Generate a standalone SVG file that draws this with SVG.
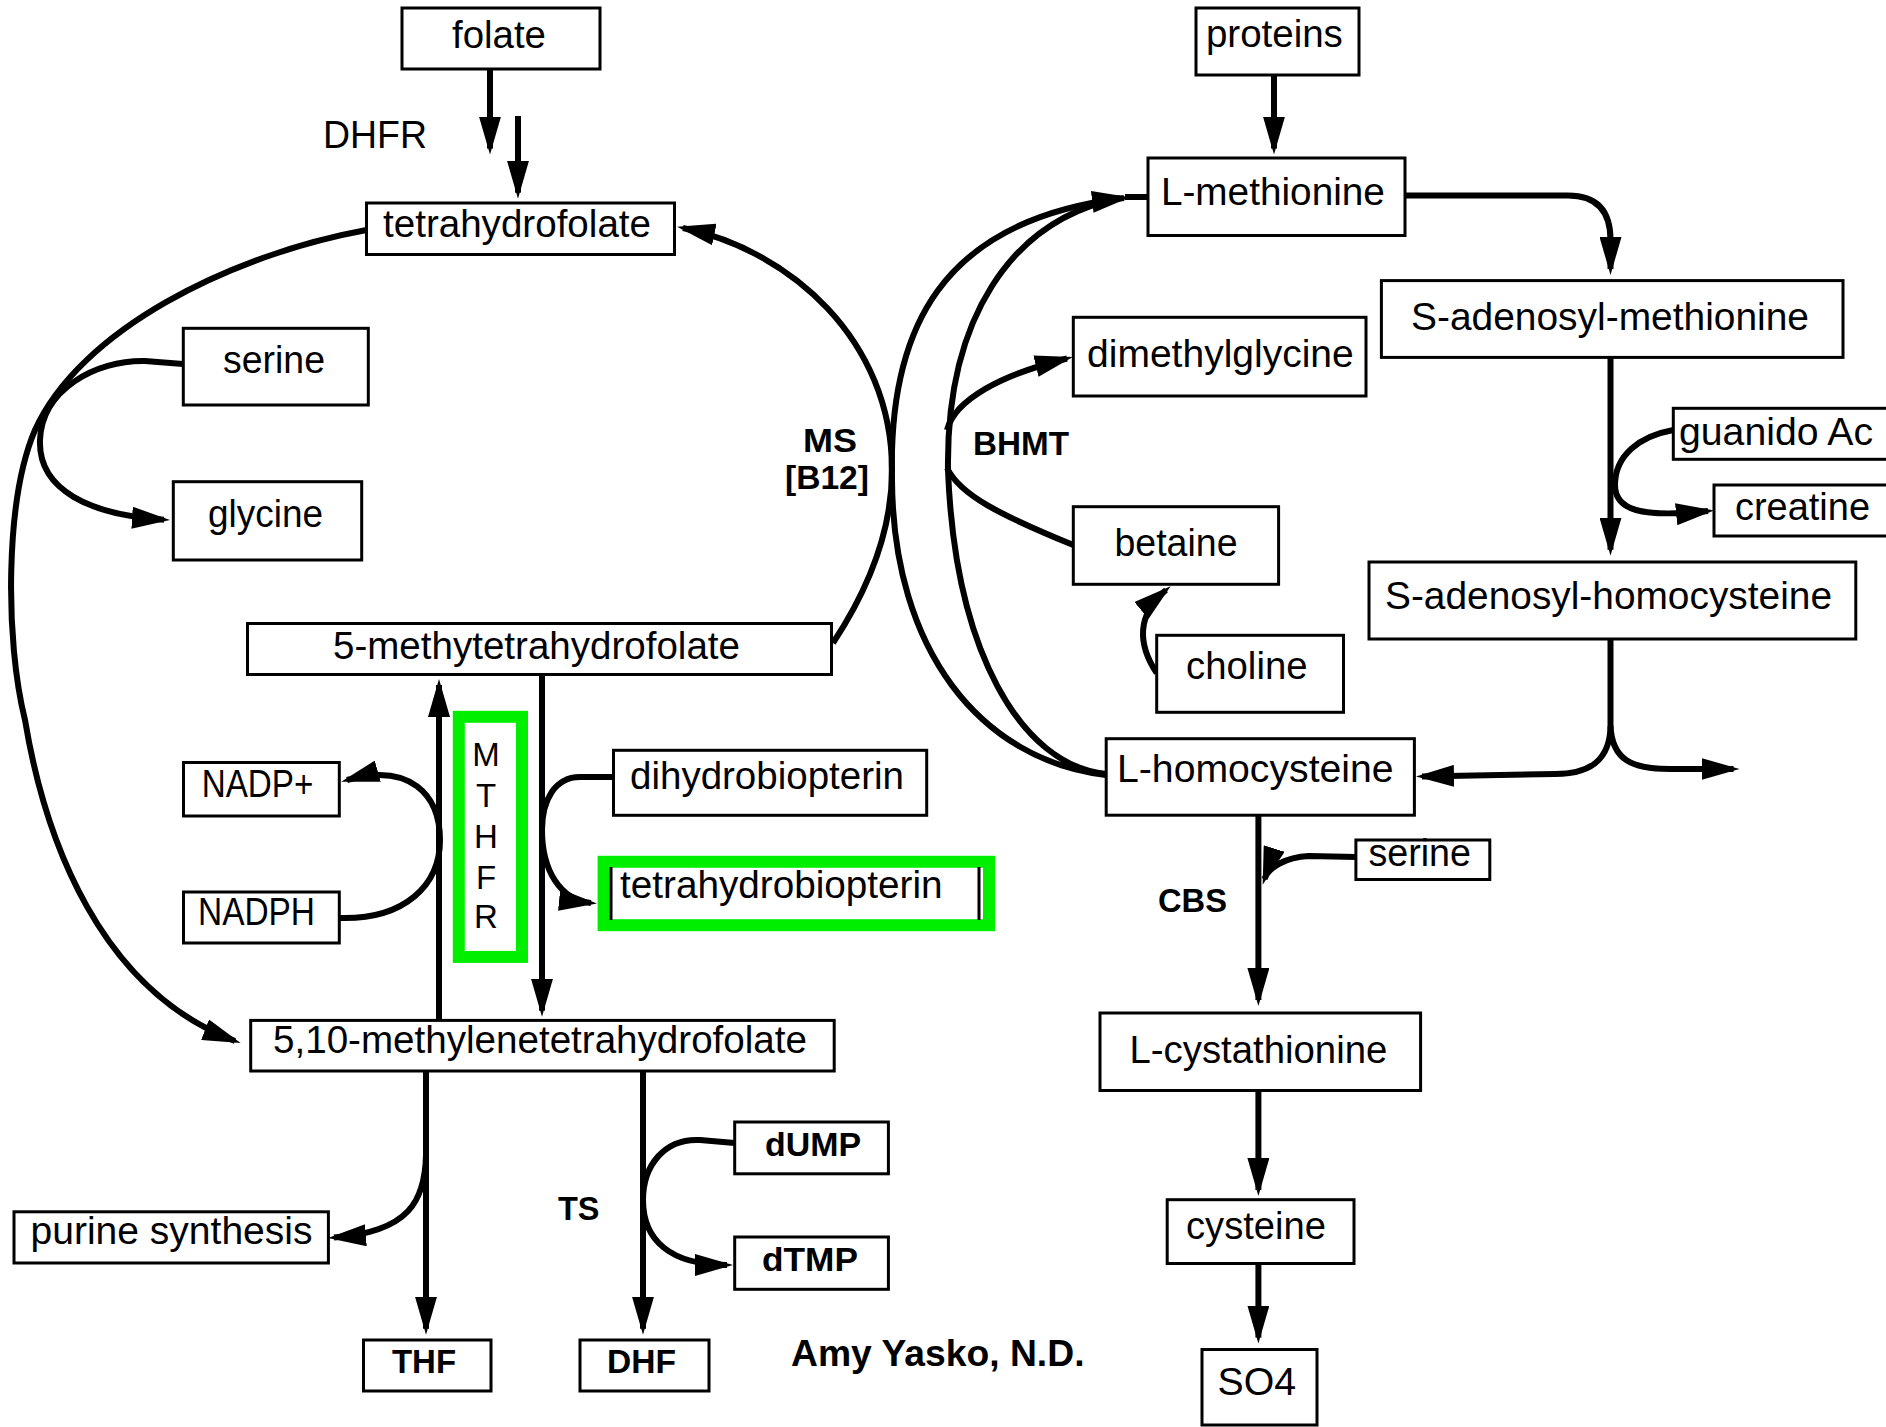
<svg xmlns="http://www.w3.org/2000/svg" width="1886" height="1427" viewBox="0 0 1886 1427">
<style>
.box{fill:#fff;stroke:#000;stroke-width:3}
.grn{fill:none;stroke:#00ee00;stroke-width:12}
.t{font-family:"Liberation Sans",Arial,sans-serif;font-size:38px;fill:#000}
.c{text-anchor:middle}
.b{font-family:"Liberation Sans",Arial,sans-serif;font-size:34px;font-weight:bold;fill:#000}
.ln{fill:none;stroke:#000;stroke-width:6}
.ar{marker-end:url(#ah)}
</style>
<defs>
<marker id="ah" markerUnits="userSpaceOnUse" markerWidth="38" markerHeight="22" viewBox="0 0 38 22" refX="32" refY="11" orient="auto">
<path d="M0,0 L38,11 L0,22 z" fill="#000"/>
</marker>
</defs>
<rect width="1886" height="1427" fill="#fff"/>

<g id="connectors">
<path class="ln ar" d="M490 69 L490 148.6"/>
<path class="ln ar" d="M518 116 L518 192.7"/>
<path class="ln ar" d="M833 643 C868 590 892 530 892 470 C892 340 790 250 683 228"/>
<path class="ln ar" d="M366.5 230 C230 255 80 330 35 430 C5 500 5 640 25 720 C45 840 100 990 235 1041"/>
<path class="ln ar" d="M183 364 L145 361 C95 360 42 390 40 440 C38 490 90 515 164 519.7"/>
<path class="ln ar" d="M339 918 C405 920 440 885 440 840 C440 795 410 762 347 780"/>
<path class="ln ar" d="M439 1020 L439 685"/>
<path class="ln ar" d="M542 674.5 L542 1010.7"/>
<path class="ln ar" d="M613.5 777 L580 777 C555 777 542 800 542 830 C542 870 560 900 591 903"/>
<path class="ln ar" d="M426 1071 L426 1328.7"/>
<path class="ln ar" d="M426 1155 C425 1200 410 1232 334 1237.6"/>
<path class="ln ar" d="M643 1071 L643 1328.7"/>
<path class="ln ar" d="M734.7 1143 L700 1140 C665 1138 643 1165 643 1200 C643 1240 670 1265 727 1265"/>
<path class="ln ar" d="M1274 75 L1274 148.6"/>
<path class="ln ar" d="M1405 195.5 L1568 195.5 C1598 195.5 1610.5 212 1610.5 240 L1610.5 269"/>
<path class="ln ar" d="M1610.5 357.4 L1610.5 549.7"/>
<path class="ln ar" d="M1673.3 430 C1640 436 1615 455 1615 485 C1615 510 1640 518 1708 511"/>
<path class="ln" d="M1106 774 C1020 765 955 650 948 470 C946 320 1010 220 1120 198"/>
<path class="ln ar" d="M1106 775 C980 760 893 650 892 480 C888 330 940 220 1124 198"/>
<path class="ln" d="M1125 197 L1148 197"/>
<path class="ln ar" d="M947 430 C955 400 1000 375 1067 358.5"/>
<path class="ln" d="M947 468 C960 495 1000 515 1073.3 545"/>
<path class="ln ar" d="M1156.7 673 C1138 645 1136 615 1166 590"/>
<path class="ln" d="M1610.5 639 L1610.5 726"/>
<path class="ln ar" d="M1610.5 726 C1610 760 1590 774 1555 774 L1422 776.5"/>
<path class="ln ar" d="M1610.5 726 C1612 760 1632 769 1670 769 L1733.5 769"/>
<path class="ln ar" d="M1258.4 815 L1258.4 1000"/>
<path class="ln ar" d="M1356 857 L1309 856 C1285 857 1268 868 1264.5 879"/>
<path class="ln ar" d="M1258.4 1090.5 L1258.4 1190"/>
<path class="ln ar" d="M1258.4 1263.5 L1258.4 1337.6"/>
</g>

<g id="folate"><rect class="box" x="402" y="8" width="198" height="61"/><text class="t c" x="499" y="48" textLength="94" lengthAdjust="spacingAndGlyphs">folate</text></g>
<g id="dhfr"><text class="t" x="323" y="148" textLength="104" lengthAdjust="spacingAndGlyphs">DHFR</text></g>
<g id="thf-top"><rect class="box" x="366.5" y="203" width="308" height="51.5"/><text class="t c" x="517" y="236.5" textLength="268" lengthAdjust="spacingAndGlyphs">tetrahydrofolate</text></g>
<g id="serine"><rect class="box" x="183.3" y="328.3" width="185" height="76.7"/><text class="t c" x="274" y="373" textLength="102" lengthAdjust="spacingAndGlyphs">serine</text></g>
<g id="glycine"><rect class="box" x="173.3" y="481.7" width="188.4" height="78.3"/><text class="t c" x="265.5" y="527" textLength="115" lengthAdjust="spacingAndGlyphs">glycine</text></g>
<g id="methylthf"><rect class="box" x="247.5" y="623.5" width="584" height="51"/><text class="t c" x="536.5" y="659" textLength="407" lengthAdjust="spacingAndGlyphs">5-methytetrahydrofolate</text></g>
<g id="ms"><text class="b" x="803" y="451.5" textLength="54" lengthAdjust="spacingAndGlyphs">MS</text><text class="b" x="785" y="489" textLength="84" lengthAdjust="spacingAndGlyphs">[B12]</text></g>
<g id="nadp"><rect class="box" x="183.5" y="762.5" width="155.8" height="53.5"/><text class="t c" x="257.5" y="796.7" textLength="111.7" lengthAdjust="spacingAndGlyphs">NADP+</text></g>
<g id="nadph"><rect class="box" x="183.5" y="892" width="155.8" height="51"/><text class="t c" x="256.5" y="925" textLength="117" lengthAdjust="spacingAndGlyphs">NADPH</text></g>
<g id="mthfr"><rect class="grn" x="458.8" y="716.8" width="63.2" height="240.1"/>
<text class="t c" style="font-size:33px" x="486" y="766">M</text>
<text class="t c" style="font-size:33px" x="486" y="807">T</text>
<text class="t c" style="font-size:33px" x="486" y="848">H</text>
<text class="t c" style="font-size:33px" x="486" y="889">F</text>
<text class="t c" style="font-size:33px" x="486" y="928">R</text></g>
<g id="dihydrobiopterin"><rect class="box" x="613.5" y="750.3" width="313.2" height="65"/><text class="t c" x="767" y="789" textLength="274" lengthAdjust="spacingAndGlyphs">dihydrobiopterin</text></g>
<g id="tetrahydrobiopterin"><rect class="grn" x="603.6" y="861.8" width="385.4" height="63.4"/><path d="M611 867 L611 920 M979 867 L979 920" stroke="#000" stroke-width="3"/><text class="t" x="620" y="898" textLength="322.6" lengthAdjust="spacingAndGlyphs">tetrahydrobiopterin</text></g>
<g id="methylenethf"><rect class="box" x="250.7" y="1020.4" width="583.5" height="50.6"/><text class="t c" x="540" y="1052.5" textLength="534" lengthAdjust="spacingAndGlyphs">5,10-methylenetetrahydrofolate</text></g>
<g id="purine"><rect class="box" x="14" y="1211.8" width="314.4" height="51.2"/><text class="t c" x="171.5" y="1244" textLength="282" lengthAdjust="spacingAndGlyphs">purine synthesis</text></g>
<g id="thf-bottom"><rect class="box" x="363.5" y="1340" width="127.5" height="51"/><text class="b c" x="424" y="1372.6" textLength="64" lengthAdjust="spacingAndGlyphs">THF</text></g>
<g id="dhf"><rect class="box" x="580" y="1340" width="129" height="51"/><text class="b c" x="641.5" y="1372.6" textLength="69" lengthAdjust="spacingAndGlyphs">DHF</text></g>
<g id="ts"><text class="b" x="558" y="1219.7" textLength="41.5" lengthAdjust="spacingAndGlyphs">TS</text></g>
<g id="dump"><rect class="box" x="734.7" y="1122" width="153.7" height="51.8"/><text class="b c" x="813" y="1156.4" textLength="96" lengthAdjust="spacingAndGlyphs">dUMP</text></g>
<g id="dtmp"><rect class="box" x="734.7" y="1237" width="153.7" height="52.3"/><text class="b c" x="810" y="1271" textLength="96" lengthAdjust="spacingAndGlyphs">dTMP</text></g>
<g id="author"><text class="b" style="font-size:36px" x="791" y="1366" textLength="293.5" lengthAdjust="spacingAndGlyphs">Amy Yasko, N.D.</text></g>

<g id="proteins"><rect class="box" x="1196" y="8" width="163" height="67"/><text class="t c" x="1274.4" y="47" textLength="137" lengthAdjust="spacingAndGlyphs">proteins</text></g>
<g id="methionine"><rect class="box" x="1148" y="158" width="257" height="77.5"/><text class="t c" x="1272.9" y="204.6" textLength="224" lengthAdjust="spacingAndGlyphs">L-methionine</text></g>
<g id="sam"><rect class="box" x="1381.4" y="280.6" width="461.6" height="76.8"/><text class="t c" x="1610" y="329.7" textLength="398" lengthAdjust="spacingAndGlyphs">S-adenosyl-methionine</text></g>
<g id="dimethylglycine"><rect class="box" x="1073.3" y="317.3" width="292.7" height="78.7"/><text class="t c" x="1220.4" y="367.4" textLength="266.7" lengthAdjust="spacingAndGlyphs">dimethylglycine</text></g>
<g id="bhmt"><text class="b" x="973" y="455" textLength="96" lengthAdjust="spacingAndGlyphs">BHMT</text></g>
<g id="betaine"><rect class="box" x="1073.3" y="506.7" width="205.3" height="77.6"/><text class="t c" x="1176" y="555.7" textLength="123" lengthAdjust="spacingAndGlyphs">betaine</text></g>
<g id="choline"><rect class="box" x="1156.7" y="635.3" width="186.8" height="77"/><text class="t c" x="1246.8" y="679" textLength="121.5" lengthAdjust="spacingAndGlyphs">choline</text></g>
<g id="guanido"><rect class="box" x="1673.3" y="408.3" width="230" height="51"/><text class="t" x="1679" y="445" textLength="194" lengthAdjust="spacingAndGlyphs">guanido Ac</text></g>
<g id="creatine"><rect class="box" x="1714" y="485" width="190" height="51"/><text class="t" x="1735" y="520" textLength="135" lengthAdjust="spacingAndGlyphs">creatine</text></g>
<g id="sah"><rect class="box" x="1369" y="562" width="486.8" height="77"/><text class="t c" x="1608.5" y="609" textLength="447" lengthAdjust="spacingAndGlyphs">S-adenosyl-homocysteine</text></g>
<g id="homocysteine"><rect class="box" x="1106.2" y="738.7" width="308.2" height="76.5"/><text class="t c" x="1255.3" y="782" textLength="276.6" lengthAdjust="spacingAndGlyphs">L-homocysteine</text></g>
<g id="serine2"><rect class="box" x="1355.9" y="840" width="133.9" height="39.5"/><text class="t c" x="1419.7" y="866" textLength="102.5" lengthAdjust="spacingAndGlyphs">serine</text></g>
<g id="cbs"><text class="b" x="1158" y="912" textLength="69" lengthAdjust="spacingAndGlyphs">CBS</text></g>
<g id="cystathionine"><rect class="box" x="1100" y="1013" width="320.6" height="77.5"/><text class="t c" x="1258.4" y="1062.5" textLength="257.8" lengthAdjust="spacingAndGlyphs">L-cystathionine</text></g>
<g id="cysteine"><rect class="box" x="1167.2" y="1199.7" width="186.8" height="63.8"/><text class="t c" x="1256" y="1239" textLength="140" lengthAdjust="spacingAndGlyphs">cysteine</text></g>
<g id="so4"><rect class="box" x="1202" y="1349.5" width="115" height="75.5"/><text class="t c" x="1256.8" y="1395" textLength="78.6" lengthAdjust="spacingAndGlyphs">SO4</text></g>
</svg>
